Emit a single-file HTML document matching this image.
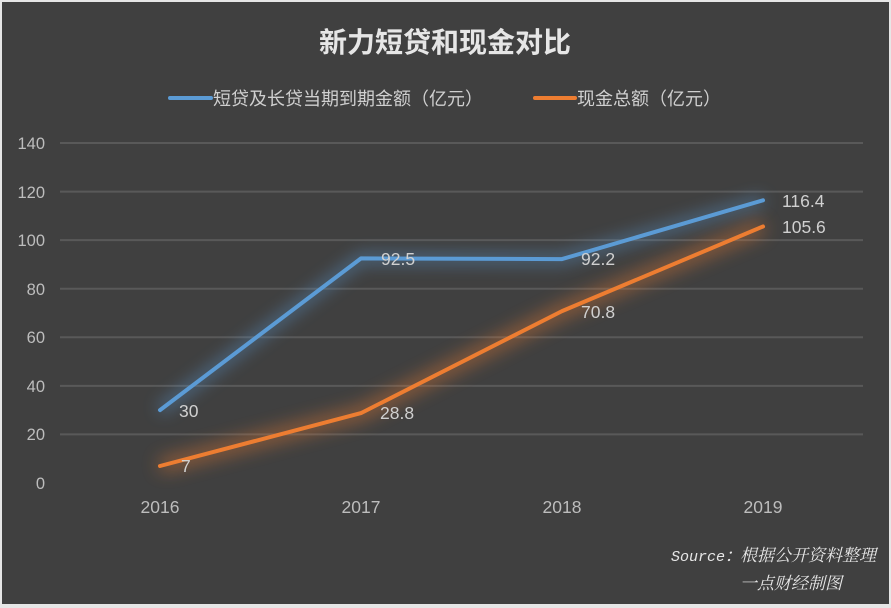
<!DOCTYPE html>
<html>
<head>
<meta charset="utf-8">
<style>
  html,body{margin:0;padding:0;background:#e9e9e9;}
  body{width:891px;height:608px;overflow:hidden;position:relative;}
  svg{position:absolute;left:0;top:0;}
</style>
</head>
<body>
<svg width="891" height="608" viewBox="0 0 891 608" xmlns="http://www.w3.org/2000/svg">
  <defs>
    <filter id="glowB" x="-20%" y="-40%" width="140%" height="180%">
      <feGaussianBlur stdDeviation="8"/>
    </filter>
    <filter id="glowO" x="-20%" y="-40%" width="140%" height="180%">
      <feGaussianBlur stdDeviation="9"/>
    </filter>
  </defs>
  <rect x="0" y="0" width="891" height="608" fill="#e6e6e6"/>
  <rect x="2" y="2" width="887" height="602" fill="#404040"/>

  <!-- title -->
  <text x="445" y="52" text-anchor="middle" font-family="'Liberation Sans','Noto Sans CJK SC',sans-serif" font-size="28" font-weight="bold" fill="#e6e6e6">新力短贷和现金对比</text>

  <!-- legend -->
  <line x1="170" y1="98" x2="211" y2="98" stroke="#5b9bd5" stroke-width="4" stroke-linecap="round"/>
  <text x="213" y="105" font-family="'Liberation Sans','Noto Sans CJK SC',sans-serif" font-size="18" fill="#cfcfcf">短贷及长贷当期到期金额（亿元）</text>
  <line x1="535" y1="98" x2="575" y2="98" stroke="#ed7d31" stroke-width="4" stroke-linecap="round"/>
  <text x="577" y="105" font-family="'Liberation Sans','Noto Sans CJK SC',sans-serif" font-size="18" fill="#cfcfcf">现金总额（亿元）</text>

  <!-- gridlines -->
  <g stroke="#595959" stroke-width="2">
    <line x1="60" y1="143" x2="863" y2="143"/>
    <line x1="60" y1="191.6" x2="863" y2="191.6"/>
    <line x1="60" y1="240.1" x2="863" y2="240.1"/>
    <line x1="60" y1="288.7" x2="863" y2="288.7"/>
    <line x1="60" y1="337.3" x2="863" y2="337.3"/>
    <line x1="60" y1="385.9" x2="863" y2="385.9"/>
    <line x1="60" y1="434.4" x2="863" y2="434.4"/>
  </g>

  <!-- y labels -->
  <g font-family="'Liberation Sans',sans-serif" font-size="16.5" fill="#bdbdbd" text-anchor="end">
    <text x="45" y="149">140</text>
    <text x="45" y="198">120</text>
    <text x="45" y="246">100</text>
    <text x="45" y="295">80</text>
    <text x="45" y="343">60</text>
    <text x="45" y="392">40</text>
    <text x="45" y="440">20</text>
    <text x="45" y="489">0</text>
  </g>

  <!-- x labels -->
  <g font-family="'Liberation Sans',sans-serif" font-size="17.5" fill="#bdbdbd" text-anchor="middle">
    <text x="160" y="513">2016</text>
    <text x="361" y="513">2017</text>
    <text x="562" y="513">2018</text>
    <text x="763" y="513">2019</text>
  </g>

  <!-- glows -->
  <polyline points="160,410.1 361,258.4 562,259.1 763,200.3" fill="none" stroke="#5b9bd5" stroke-width="10" opacity="0.5" filter="url(#glowB)" stroke-linejoin="round"/>
  <polyline points="160,466 361,413.1 562,311.1 763,226.5" fill="none" stroke="#ed7d31" stroke-width="12" opacity="0.55" filter="url(#glowO)" stroke-linejoin="round"/>

  <!-- series -->
  <polyline points="160,410.1 361,258.4 562,259.1 763,200.3" fill="none" stroke="#5b9bd5" stroke-width="4" stroke-linejoin="round" stroke-linecap="round"/>
  <polyline points="160,466 361,413.1 562,311.1 763,226.5" fill="none" stroke="#ed7d31" stroke-width="4" stroke-linejoin="round" stroke-linecap="round"/>

  <!-- data labels -->
  <g font-family="'Liberation Sans',sans-serif" font-size="17.5" fill="#d0d0d0">
    <text x="179" y="417">30</text>
    <text x="381" y="265">92.5</text>
    <text x="581" y="265">92.2</text>
    <text x="782" y="207">116.4</text>
    <text x="181" y="472">7</text>
    <text x="380" y="419">28.8</text>
    <text x="581" y="318">70.8</text>
    <text x="782" y="233">105.6</text>
  </g>

  <!-- source -->
  <text x="671" y="561" font-family="'Liberation Mono',monospace" font-style="italic" font-size="15" fill="#e6e6e6">Source：</text>
  <text x="740" y="561" font-family="'Liberation Serif','Noto Serif CJK SC',serif" font-style="italic" font-size="17" fill="#e6e6e6">根据公开资料整理</text>
  <text x="740" y="589" font-family="'Liberation Serif','Noto Serif CJK SC',serif" font-style="italic" font-size="17" fill="#e6e6e6">一点财经制图</text>
</svg>
</body>
</html>
